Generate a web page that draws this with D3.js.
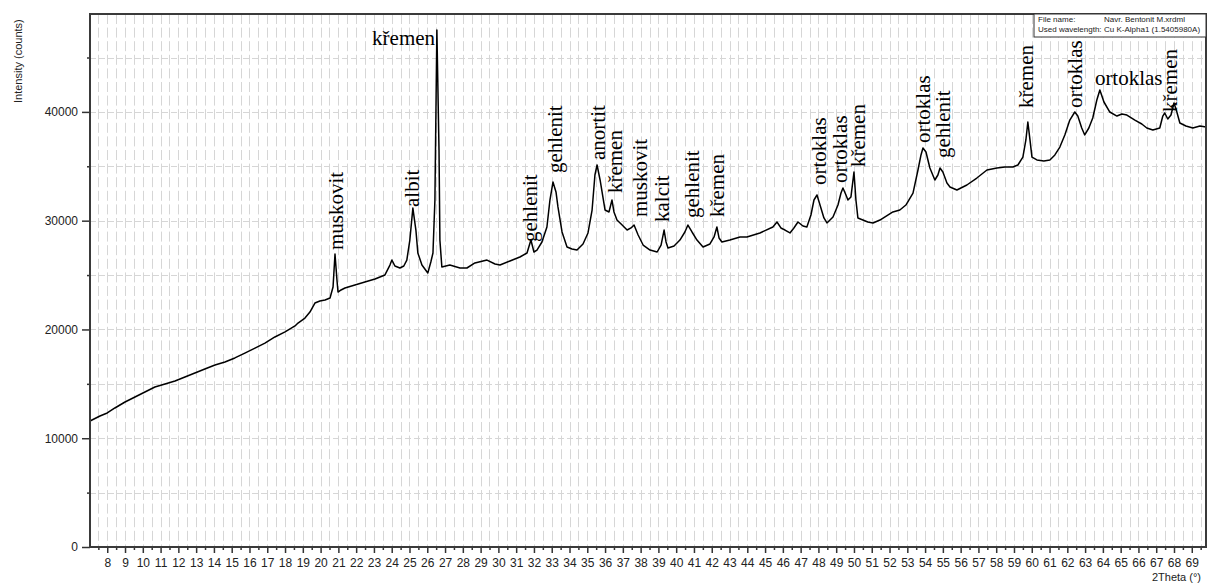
<!DOCTYPE html>
<html>
<head>
<meta charset="utf-8">
<script src="https://cdn.jsdelivr.net/npm/d3@7/dist/d3.min.js"></script>
<style>
  body { margin: 0; background: #fff; }
  svg { display: block; }
</style>
</head>
<body>
<div id="chart"></div>
<script>
// diffractogram
const twoTheta = [7.03, 7.59, 8.0, 8.43, 9.0, 9.56, 10.12, 10.68, 11.25, 11.81, 12.37, 12.93, 13.49, 14.06, 14.62,
  15.18, 15.74, 16.31, 16.87, 17.43, 18.0, 18.56, 18.73, 19.12, 19.40, 19.68, 19.96, 20.25, 20.53, 20.70, 20.81,
  20.92, 20.98, 21.15, 21.37, 21.93, 22.49, 23.06, 23.62, 23.90, 24.01, 24.18, 24.46, 24.68, 24.85, 25.02, 25.19,
  25.36, 25.47, 25.70, 26.03, 26.20, 26.32, 26.43, 26.54, 26.66, 26.71, 26.82, 27.27, 27.84, 28.23, 28.68, 29.36,
  29.81, 30.09, 30.65, 31.21, 31.61, 31.83, 32.00, 32.17, 32.45, 32.73, 32.90, 33.07, 33.24, 33.35, 33.58, 33.86,
  34.14, 34.42, 34.76, 35.04, 35.27, 35.43, 35.55, 35.72, 36.0, 36.22, 36.39, 36.50, 36.67, 36.96, 37.24, 37.46,
  37.63, 37.86, 38.14, 38.53, 38.93, 39.15, 39.32, 39.43, 39.54, 39.88, 40.21, 40.49, 40.66, 40.89, 41.17, 41.51,
  41.90, 42.13, 42.29, 42.41, 42.57, 43.02, 43.59, 43.98, 44.71, 45.44, 45.67, 45.89, 46.12, 46.40, 46.62, 46.85,
  47.13, 47.35, 47.58, 47.75, 47.92, 48.09, 48.31, 48.48, 48.82, 49.10, 49.27, 49.38, 49.55, 49.66, 49.83, 50.0,
  50.11, 50.22, 50.50, 50.78, 51.07, 51.46, 52.19, 52.58, 52.92, 53.32, 53.60, 53.77, 53.88, 54.05, 54.27, 54.55,
  54.72, 54.84, 55.0, 55.23, 55.40, 55.79, 56.35, 56.91, 57.48, 58.04, 58.49, 58.94, 59.22, 59.50, 59.67, 59.78,
  59.90, 60.01, 60.29, 60.68, 61.02, 61.30, 61.58, 61.86, 62.14, 62.42, 62.59, 62.81, 62.98, 63.21, 63.43, 63.66,
  63.83, 64.06, 64.39, 64.79, 65.07, 65.35, 65.80, 66.19, 66.47, 66.81, 67.20, 67.37, 67.48, 67.65, 67.83, 68.0,
  68.16, 68.33, 68.67, 69.06, 69.46, 69.80];

const counts = [11580, 12040, 12320, 12780, 13330, 13790, 14250, 14710, 14990, 15260, 15630, 16000, 16360, 16730, 17010,
  17380, 17830, 18290, 18750, 19310, 19770, 20320, 20590, 21050, 21600, 22430, 22620, 22710, 22890, 23900, 26940,
  24550, 23440, 23630, 23810, 24090, 24360, 24640, 25010, 25920, 26380, 25830, 25650, 25830, 26380, 28220, 31160,
  29140, 27030, 25920, 25190, 26200, 27030, 31900, 47530, 36500, 28220, 25740, 25920, 25650, 25650, 26110, 26380,
  26020, 25920, 26290, 26660, 27030, 28220, 27120, 27300, 28040, 29420, 31900, 33550, 32640, 31260, 28960, 27580,
  27400, 27300, 27860, 28870, 30980, 34200, 35120, 33740, 30980, 30800, 31900, 30800, 30060, 29600, 29140, 29330,
  29600, 28680, 27760, 27300, 27120, 27760, 29140, 28040, 27490, 27670, 28220, 28960, 29600, 28960, 28220, 27580,
  27860, 28500, 29420, 28410, 28040, 28220, 28500, 28500, 28870, 29420, 29880, 29330, 29140, 28870, 29330, 29880,
  29510, 29420, 30520, 31900, 32360, 31440, 30250, 29790, 30340, 31440, 32540, 33000, 32360, 31900, 32180, 34470,
  31900, 30250, 30060, 29880, 29790, 30060, 30800, 30980, 31440, 32540, 34660, 36040, 36680, 36310, 34840, 33740,
  34200, 34840, 34470, 33460, 33100, 32820, 33280, 33920, 34660, 34840, 34930, 34930, 35120, 35850, 37420, 39070,
  37420, 35850, 35580, 35490, 35580, 36040, 36770, 37880, 39250, 39990, 39620, 38520, 37880, 38520, 39440, 41090,
  42010, 40910, 39990, 39620, 39810, 39710, 39250, 38890, 38520, 38340, 38520, 39620, 39900, 39350, 39710, 40820,
  39990, 38980, 38700, 38520, 38700, 38610];

// phase annotations
const labelText = ["muskovit", "albit", "křemen", "gehlenit", "gehlenit", "anortit", "křemen", "muskovit", "kalcit",
  "gehlenit", "křemen", "ortoklas", "ortoklas", "křemen", "ortoklas", "gehlenit", "křemen", "ortoklas", "ortoklas", "křemen"];
const labelTheta = [20.86, 25.14, 26.44, 31.78, 33.18, 35.6, 36.56, 37.96, 39.2,
  40.89, 42.29, 48.03, 49.21, 50.22, 53.87, 54.99, 59.66, 62.42, 63.55, 67.77];
const labelCounts = [27300, 31260, 46150, 28040, 34380, 35580, 32540, 30340, 29880,
  30250, 30340, 33280, 33460, 34930, 37140, 35760, 40360, 40360, 42470, 39990];
const labelUpright = [false, false, true, false, false, false, false, false, false,
  false, false, false, false, false, false, false, false, false, true, false];

const yTicks = [0, 10000, 20000, 30000, 40000];
const xTicks = d3.range(8, 70);

const W = 1214, H = 583;
const margin = {top: 14, right: 8, bottom: 36, left: 90};

const svg = d3.select("#chart").append("svg")
  .attr("width", W)
  .attr("height", H);

const x = d3.scaleLinear().domain([7.03, 69.8]).range([margin.left, W - margin.right]);
const y = d3.scaleLinear().domain([0, 49000]).range([H - margin.bottom, margin.top]);

const data = twoTheta.map((t, i) => ({t: t, c: counts[i]}));

// grid
const grid = svg.append("g").attr("stroke", "#d6d6d6").attr("stroke-width", 1);
grid.selectAll("line.v")
  .data(d3.range(7.5, 69.6, 0.5))
  .join("line")
  .attr("class", "v")
  .attr("x1", d => Math.round(x(d)) + 0.5)
  .attr("x2", d => Math.round(x(d)) + 0.5)
  .attr("y1", y.range()[1])
  .attr("y2", y.range()[0])
  .attr("stroke-dasharray", "10,3.6");
grid.selectAll("line.h")
  .data(d3.range(5000, 46000, 5000))
  .join("line")
  .attr("class", "h")
  .attr("x1", x.range()[0])
  .attr("x2", x.range()[1])
  .attr("y1", d => Math.round(y(d)) + 0.5)
  .attr("y2", d => Math.round(y(d)) + 0.5)
  .attr("stroke-dasharray", "6,3");

// curve
const line = d3.line().x(d => x(d.t)).y(d => y(d.c));
svg.append("path")
  .datum(data)
  .attr("fill", "none")
  .attr("stroke", "#000")
  .attr("stroke-width", 1.5)
  .attr("stroke-linejoin", "round")
  .attr("d", line);

// axes
const fontAxis = "'Liberation Sans', Arial, sans-serif";

const gy = svg.append("g")
  .attr("transform", `translate(${margin.left},0)`)
  .call(d3.axisLeft(y).tickValues(yTicks).tickSize(8).tickPadding(4).tickFormat(d3.format("d")));
const gyMinor = svg.append("g")
  .attr("transform", `translate(${margin.left},0)`)
  .call(d3.axisLeft(y).tickValues([5000, 15000, 25000, 35000, 45000]).tickSize(3).tickFormat(""));

const gx = svg.append("g")
  .attr("transform", `translate(0,${H - margin.bottom})`)
  .call(d3.axisBottom(x).tickValues(xTicks).tickSize(6).tickPadding(5).tickFormat(d3.format("d")));
const gxMinor = svg.append("g")
  .attr("transform", `translate(0,${H - margin.bottom})`)
  .call(d3.axisBottom(x).tickValues(d3.range(7.5, 69.6, 1)).tickSize(3).tickFormat(""));

[gy, gyMinor, gx, gxMinor].forEach(g => {
  g.selectAll("path").remove();
  g.selectAll("line").attr("stroke", "#333").attr("stroke-width", 1.5);
  g.selectAll("text").attr("font-family", fontAxis).attr("font-size", 12).attr("fill", "#222");
});

// frame
svg.append("rect")
  .attr("x", x.range()[0])
  .attr("y", y.range()[1])
  .attr("width", x.range()[1] - x.range()[0])
  .attr("height", y.range()[0] - y.range()[1])
  .attr("fill", "none")
  .attr("stroke", "#3a3a3a")
  .attr("stroke-width", 2);

// axis titles
svg.append("text")
  .attr("transform", "translate(22,103) rotate(-90)")
  .attr("font-family", fontAxis)
  .attr("font-size", 11)
  .attr("fill", "#222")
  .text("Intensity (counts)");

svg.append("text")
  .attr("x", 1201)
  .attr("y", 581)
  .attr("text-anchor", "end")
  .attr("font-family", fontAxis)
  .attr("font-size", 11)
  .attr("fill", "#222")
  .text("2Theta (°)");

// info box
const box = svg.append("g");
box.append("rect")
  .attr("x", 1034).attr("y", y.range()[1])
  .attr("width", x.range()[1] - 1034).attr("height", 23)
  .attr("fill", "#fff").attr("stroke", "#333").attr("stroke-width", 1);
const info = [["File name:", "Navr. Bentonit M.xrdml"], ["Used wavelength:", "Cu K-Alpha1 (1.5405980A)"]];
info.forEach((row, i) => {
  box.append("text").attr("x", 1038).attr("y", 22 + i * 10)
    .attr("font-family", fontAxis).attr("font-size", 8).attr("fill", "#222").text(row[0]);
  box.append("text").attr("x", 1104).attr("y", 22 + i * 10)
    .attr("font-family", fontAxis).attr("font-size", 8).attr("fill", "#222").text(row[1]);
});

// peak labels
const fontLabel = "'Liberation Serif', 'Times New Roman', serif";
const labels = svg.append("g")
  .attr("font-family", fontLabel)
  .attr("font-size", 21)
  .attr("fill", "#000");

labelText.forEach((txt, i) => {
  const px = x(labelTheta[i]), py = y(labelCounts[i]);
  if (labelUpright[i]) {
    labels.append("text")
      .attr("x", px)
      .attr("y", py)
      .attr("text-anchor", i === 2 ? "end" : "start")
      .text(txt);
  } else {
    labels.append("text")
      .attr("transform", `translate(${px},${py}) rotate(-90)`)
      .attr("dy", "0.35em")
      .text(txt);
  }
});
</script>
</body>
</html>
